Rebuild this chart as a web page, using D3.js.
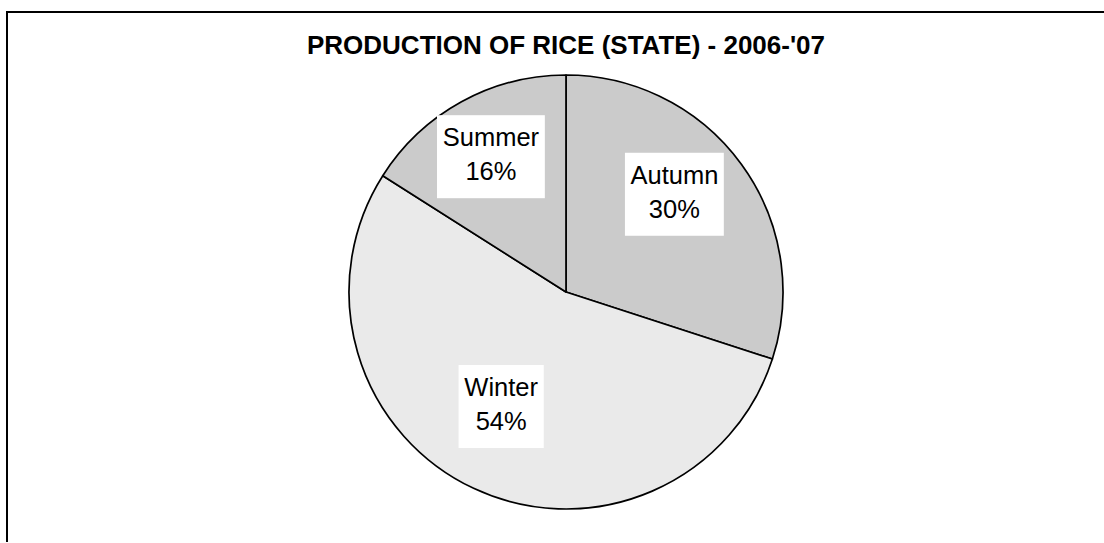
<!DOCTYPE html>
<html>
<head>
<meta charset="utf-8">
<script src="https://cdn.jsdelivr.net/npm/d3@7"></script>
<style>
  html, body { margin: 0; padding: 0; background: #ffffff; }
  svg { display: block; }
</style>
</head>
<body>
<svg id="chart" width="1104" height="543"></svg>
<script>
// ---- data ----
const categories = ["Autumn", "Winter", "Summer"];
const shares = [30, 54, 16];           // percent of state rice production
const titleText = "PRODUCTION OF RICE (STATE) - 2006-'07";

// ---- style / layout ----
const sliceColors = ["#cbcbcb", "#eaeaea", "#cbcbcb"];
const labelNudge = [[-11, -11], [-2, -19], [-4, -6]];

const W = 1104, H = 543;
const cx = 566, cy = 292, R = 217;

const svg = d3.select("#chart");

// outer frame (only top and left edges visible)
svg.append("path")
  .attr("d", `M7,542 L7,12 L${W},12`)
  .attr("fill", "none")
  .attr("stroke", "#000")
  .attr("stroke-width", 2);

// title
svg.append("text")
  .attr("x", 566)
  .attr("y", 53.5)
  .attr("text-anchor", "middle")
  .attr("font-family", "'Liberation Sans', Arial, sans-serif")
  .attr("font-weight", "bold")
  .attr("font-size", 26)
  .attr("fill", "#000")
  .text(titleText);

const data = categories.map((c, i) => ({ name: c, value: shares[i] }));

const pie = d3.pie().value(d => d.value).sort(null).startAngle(0).endAngle(2 * Math.PI);
const arcs = pie(data);
const arc = d3.arc().innerRadius(0).outerRadius(R);
const labelArc = d3.arc().innerRadius(R * 0.68).outerRadius(R * 0.68);

const g = svg.append("g").attr("transform", `translate(${cx},${cy})`);

g.selectAll("path.slice")
  .data(arcs)
  .join("path")
  .attr("class", "slice")
  .attr("d", arc)
  .attr("fill", (d, i) => sliceColors[i])
  .attr("stroke", "#000")
  .attr("stroke-width", 1.7)
  .attr("stroke-linejoin", "round");

const total = d3.sum(shares);
const labels = g.selectAll("g.lbl")
  .data(arcs)
  .join("g")
  .attr("class", "lbl")
  .attr("transform", (d, i) => {
    const c = labelArc.centroid(d);
    return `translate(${c[0] + labelNudge[i][0]},${c[1] + labelNudge[i][1]})`;
  });

labels.each(function(d) {
  const sel = d3.select(this);
  const rect = sel.append("rect").attr("fill", "#fff");
  const t = sel.append("text")
    .attr("text-anchor", "middle")
    .attr("font-family", "'Liberation Sans', Arial, sans-serif")
    .attr("font-size", 25.5)
    .attr("fill", "#000");
  t.append("tspan").attr("x", 0).attr("y", -10.5).text(d.data.name);
  t.append("tspan").attr("x", 0).attr("y", 23.5)
    .text(Math.round(d.data.value / total * 100) + "%");
  const bb = t.node().getBBox();
  const w = bb.width + 11;
  rect.attr("x", -w / 2).attr("y", -41.5).attr("width", w).attr("height", 83);
});
</script>
</body>
</html>
